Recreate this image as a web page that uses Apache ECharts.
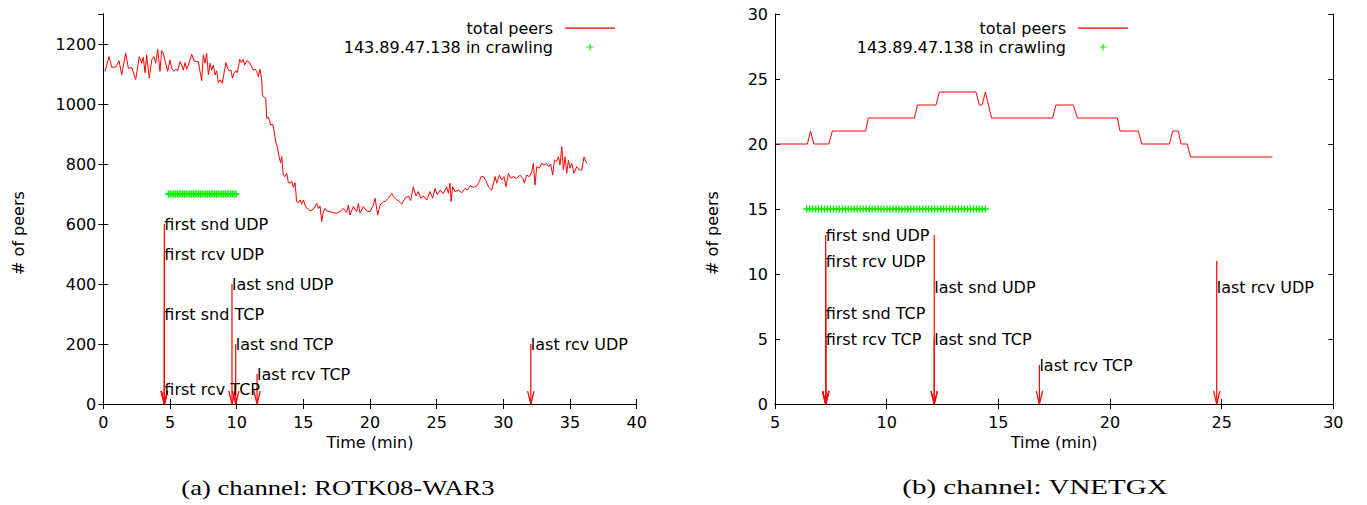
<!DOCTYPE html>
<html>
<head>
<meta charset="utf-8">
<script src="https://cdn.jsdelivr.net/npm/echarts@6/dist/echarts.min.js"></script>
<style>
html,body{margin:0;padding:0;background:#fff;}
#chart{width:1367px;height:505px;}
</style>
</head>
<body>
<div id="chart"></div>
<script>
// ---------- (a) channel: ROTK08-WAR3 ----------
const leftPeersTime = [0.13,0.43,0.63,0.95,1.18,1.38,1.68,1.88,2.13,2.43,2.7,2.88,3.0,3.13,3.25,3.45,3.63,3.8,3.93,4.08,4.25,4.38,4.5,4.68,4.83,5.0,5.13,5.3,5.45,5.58,5.75,5.88,6.0,6.13,6.25,6.38,6.5,6.63,6.8,7.0,7.13,7.25,7.38,7.5,7.63,7.75,7.88,8.0,8.13,8.25,8.38,8.5,8.63,8.75,8.93,9.05,9.2,9.33,9.45,9.58,9.68,9.8,9.93,10.05,10.23,10.35,10.48,10.6,10.75,10.93,11.1,11.23,11.38,11.5,11.63,11.75,11.88,11.93,12.05,12.18,12.25,12.38,12.55,12.7,12.8,12.93,13.05,13.18,13.3,13.38,13.5,13.63,13.75,13.88,14.0,14.13,14.25,14.38,14.5,14.63,14.75,14.88,15.0,15.13,15.25,15.38,15.5,15.75,16.0,16.13,16.25,16.38,16.5,16.63,16.75,17.0,17.25,17.5,17.75,18.0,18.25,18.38,18.5,18.75,19.0,19.13,19.25,19.5,19.75,20.0,20.25,20.38,20.58,20.75,21.0,21.13,21.38,21.63,21.75,21.95,22.2,22.38,22.63,22.88,23.05,23.25,23.45,23.63,23.8,24.0,24.25,24.5,24.7,24.88,25.05,25.25,25.5,25.75,25.88,26.0,26.08,26.2,26.38,26.63,26.88,27.13,27.3,27.5,27.75,28.0,28.2,28.33,28.5,28.7,28.88,29.13,29.38,29.5,29.7,29.88,30.05,30.2,30.38,30.55,30.75,31.0,31.25,31.45,31.58,31.75,31.95,32.13,32.25,32.38,32.5,32.7,32.88,33.05,33.25,33.4,33.55,33.7,33.83,33.98,34.13,34.25,34.38,34.5,34.63,34.75,34.88,35.0,35.13,35.3,35.5,35.7,35.88,36.05,36.18,36.3];
const leftPeersCount = [1109,1158,1122,1124,1144,1097,1169,1119,1122,1082,1158,1136,1156,1104,1164,1086,1147,1158,1136,1182,1109,1178,1169,1136,1109,1147,1119,1109,1116,1111,1141,1130,1113,1138,1116,1130,1147,1166,1144,1141,1141,1109,1078,1164,1136,1169,1097,1136,1113,1130,1097,1111,1071,1080,1069,1102,1138,1119,1111,1113,1086,1102,1111,1104,1149,1138,1149,1130,1144,1141,1127,1113,1116,1109,1091,1116,1080,1030,1022,1019,952,956,930,933,913,874,858,824,804,824,763,758,769,738,736,743,722,738,674,671,680,666,680,663,652,649,644,649,669,652,660,608,641,652,644,641,638,636,641,652,638,663,630,658,641,669,636,658,644,641,663,686,630,663,674,675,686,702,691,682,675,666,686,693,678,724,693,708,686,693,680,708,686,719,697,713,702,724,702,736,675,724,708,713,704,719,713,727,722,727,741,758,758,744,724,713,758,736,763,747,758,724,769,752,758,752,763,752,736,763,758,774,802,730,791,786,802,797,802,791,800,763,813,808,824,797,858,780,824,769,813,786,802,769,791,780,780,824,808,802];
const leftCrawlTime = [4.88,5.01,5.15,5.28,5.41,5.55,5.68,5.81,5.95,6.08,6.21,6.35,6.48,6.61,6.75,6.88,7.01,7.15,7.28,7.41,7.55,7.68,7.81,7.95,8.08,8.21,8.35,8.48,8.61,8.75,8.88,9.01,9.15,9.28,9.41,9.55,9.68,9.81,9.95];
const leftCrawlLevel = 700;
const leftEventNames = ['first snd UDP','first rcv UDP','first snd TCP','first rcv TCP','last snd UDP','last snd TCP','last rcv TCP','last rcv UDP'];
const leftEventTime = [4.58,4.58,4.58,4.58,9.65,9.93,11.53,32.06];
const leftEventArrowTop = [600,500,300,50,400,200,100,200];
const leftEventLabelY = [600,500,300,50,400,200,100,200];
const leftXTicks = [0,5,10,15,20,25,30,35,40];
const leftYTicks = [0,200,400,600,800,1000,1200];

// ---------- (b) channel: VNETGX ----------
const rightPeersTime = [5,6.45,6.59,6.74,7.41,7.57,9.06,9.18,11.24,11.38,12.21,12.36,14.0,14.15,14.27,14.42,14.7,17.43,17.58,18.36,18.54,20.33,20.45,21.27,21.42,22.66,22.81,23.06,23.18,23.46,23.61,27.27];
const rightPeersCount = [20,20,21,20,20,21,21,22,22,23,23,24,24,23,23,24,22,22,23,23,22,22,21,21,20,20,21,21,20,20,19,19];
const rightCrawlTime = [6.42,6.55,6.68,6.82,6.95,7.08,7.22,7.35,7.48,7.62,7.75,7.88,8.02,8.15,8.28,8.42,8.55,8.68,8.82,8.95,9.08,9.22,9.35,9.48,9.62,9.75,9.88,10.02,10.15,10.28,10.42,10.55,10.68,10.82,10.95,11.08,11.22,11.35,11.48,11.62,11.75,11.88,12.02,12.15,12.28,12.42,12.55,12.68,12.82,12.95,13.08,13.22,13.35,13.48,13.62,13.75,13.88,14.02,14.15,14.28,14.42];
const rightCrawlLevel = 15;
const rightEventNames = ['first snd UDP','first rcv UDP','first snd TCP','first rcv TCP','last snd UDP','last snd TCP','last rcv TCP','last rcv UDP'];
const rightEventTime = [7.27,7.27,7.27,7.27,12.13,12.13,16.84,24.78];
const rightEventArrowTop = [13,11,7,5,13,5,3,11];
const rightEventLabelY = [13,11,7,5,9,5,3,9];
const rightXTicks = [5,10,15,20,25,30];
const rightYTicks = [0,5,10,15,20,25,30];

const seriesNames = ['total peers','143.89.47.138 in crawling'];
const captions = ['(a) channel: ROTK08-WAR3','(b) channel: VNETGX'];
const axisTitles = {x:'Time (min)', y:'# of peers'};

// ---------- styles ----------
const SANS = '"DejaVu Sans", Verdana, sans-serif';
const FS = 16;
const SERIF = '"Liberation Serif", "Times New Roman", serif';
const RED = '#ff0000';
const GREEN = '#00ee00';
const PLUS = 'path://M2,0h1v2h2v1h-2v2h-1v-2h-2v-1h2z';
const LEGEND_LINE = 'path://M0,0h0.01v0.01h-0.01z M0,6.6h50v1.1h-50z M50,14h-0.01v-0.01h0.01z';
const LEGEND_PLUS = 'path://M0,0h0.01v0.01h-0.01z M50,14h-0.01v-0.01h0.01z M24.5,3.7h1.1v2.8h2.8v1.1h-2.8v2.8h-1.1v-2.8h-2.8v-1.1h2.8z';
const grids = [
  {left:103.3, top:14, width:533.4, height:390},
  {left:775, top:14, width:558.3, height:390}
];

function zip(a,b){return a.map((v,i)=>[v,b[i]]);}

function axesFor(gi, xr, yr, xInt, yInt){
  const line = {show:true, lineStyle:{color:'#000', width:1}};
  const tick = {show:true, inside:true, length:5, lineStyle:{color:'#000', width:1}};
  const lab = {color:'#000', fontFamily:SANS, fontSize:FS, formatter:v=>String(v)};
  const xs = [
    {type:'value', gridIndex:gi, position:'bottom', min:xr[0], max:xr[1], interval:xInt,
     axisLine:line, axisTick:tick, splitLine:{show:false},
     axisLabel:Object.assign({margin:10}, lab),
     name:axisTitles.x, nameLocation:'middle', nameGap:29,
     nameTextStyle:{color:'#000', fontFamily:SANS, fontSize:FS}},
    {type:'value', gridIndex:gi, position:'top', min:xr[0], max:xr[1], interval:xInt,
     axisLine:line, axisTick:tick, splitLine:{show:false}, axisLabel:{show:false}}
  ];
  const ys = [
    {type:'value', gridIndex:gi, position:'left', min:yr[0], max:yr[1], interval:yInt,
     axisLine:line, axisTick:tick, splitLine:{show:false},
     axisLabel:Object.assign({margin:7, showMaxLabel: yr[1] % yInt === 0}, lab)},
    {type:'value', gridIndex:gi, position:'right', min:yr[0], max:yr[1], interval:yInt,
     axisLine:line, axisTick:tick, splitLine:{show:false}, axisLabel:{show:false}}
  ];
  return {xs, ys};
}

const A = axesFor(0, [leftXTicks[0], leftXTicks[leftXTicks.length-1]], [leftYTicks[0],1300], 5, 200);
const B = axesFor(1, [rightXTicks[0], rightXTicks[rightXTicks.length-1]], [rightYTicks[0], rightYTicks[rightYTicks.length-1]], 5, 5);

function eventSeries(xAxisIndex, yAxisIndex, names, times, tops, labelYs){
  return {
    type:'custom', xAxisIndex, yAxisIndex, clip:false, z:5,
    data: times.map((t,i)=>[t, tops[i], labelYs[i]]),
    renderItem:function(params, api){
      const t = api.value(0), top = api.value(1), ly = api.value(2);
      const p0 = api.coord([t, top]);
      const p1 = api.coord([t, 0]);
      const pl = api.coord([t, ly]);
      return {type:'group', children:[
        {type:'line', shape:{x1:p0[0], y1:p0[1], x2:p1[0], y2:p1[1]},
         style:{stroke:RED, lineWidth:1.2}},
        {type:'polyline', shape:{points:[[p1[0]-3.2, p1[1]-13],[p1[0], p1[1]],[p1[0]+3.2, p1[1]-13]]},
         style:{stroke:RED, fill:null, lineWidth:1.2}},
        {type:'text', x:pl[0], y:pl[1], z2:10,
         style:{text:names[params.dataIndex], fill:'#000', font:FS+'px '+SANS,
                align:'left', verticalAlign:'middle'}}
      ]};
    }
  };
}

function lineSeries(xi, yi, t, v){
  return {type:'line', name:seriesNames[0], xAxisIndex:xi, yAxisIndex:yi,
    data:zip(t,v), showSymbol:false, symbol:'none',
    lineStyle:{color:RED, width:1}, itemStyle:{color:RED}, z:3};
}
function crawlSeries(xi, yi, t, level){
  return {type:'scatter', name:seriesNames[1], xAxisIndex:xi, yAxisIndex:yi,
    data:t.map(x=>[x, level]), symbol:PLUS, symbolSize:7,
    itemStyle:{color:GREEN, opacity:1}, z:4};
}

function legendAt(right){
  return {
    orient:'vertical', right:right, top:19, padding:0, align:'right',
    itemWidth:50, itemHeight:14, itemGap:1,
    selectedMode:false,
    data:[{name:seriesNames[0], icon:LEGEND_LINE, itemStyle:{color:RED}},
          {name:seriesNames[1], icon:LEGEND_PLUS, itemStyle:{color:GREEN}}],
    textStyle:{color:'#000', fontFamily:SANS, fontSize:FS, lineHeight:18, padding:[0,7,0,0]}
  };
}

function yTitle(cx, cy){
  return {type:'text', x:cx, y:cy, rotation:Math.PI/2,
    style:{text:axisTitles.y, fill:'#000', font:FS+'px '+SANS, align:'center', verticalAlign:'middle'}};
}
function caption(cx, cy, i, sx){
  return {type:'text', x:cx, y:cy, scaleX:sx,
    style:{text:captions[i], fill:'#000', font:'22px '+SERIF, align:'center', verticalAlign:'middle'}};
}

const option = {
  animation:false,
  backgroundColor:'#fff',
  grid: grids.map(g=>Object.assign({containLabel:false}, g)),
  xAxis: [...A.xs, ...B.xs].map((a,i)=>Object.assign(a,{gridIndex: i<2?0:1})),
  yAxis: [...A.ys, ...B.ys].map((a,i)=>Object.assign(a,{gridIndex: i<2?0:1})),
  legend: [legendAt(1367-615), legendAt(1367-1128)],
  series: [
    lineSeries(0,0,leftPeersTime,leftPeersCount),
    crawlSeries(0,0,leftCrawlTime,leftCrawlLevel),
    eventSeries(0,0,leftEventNames,leftEventTime,leftEventArrowTop,leftEventLabelY),
    lineSeries(2,2,rightPeersTime,rightPeersCount),
    crawlSeries(2,2,rightCrawlTime,rightCrawlLevel),
    eventSeries(2,2,rightEventNames,rightEventTime,rightEventArrowTop,rightEventLabelY)
  ],
  graphic: [
    yTitle(18, 233), yTitle(712, 233),
    caption(338, 487, 0, 1.21),
    caption(1035, 487, 1, 1.32)
  ]
};

const chart = echarts.init(document.getElementById('chart'), null, {renderer:'svg', width:1367, height:505});
chart.setOption(option);
</script>
</body>
</html>
